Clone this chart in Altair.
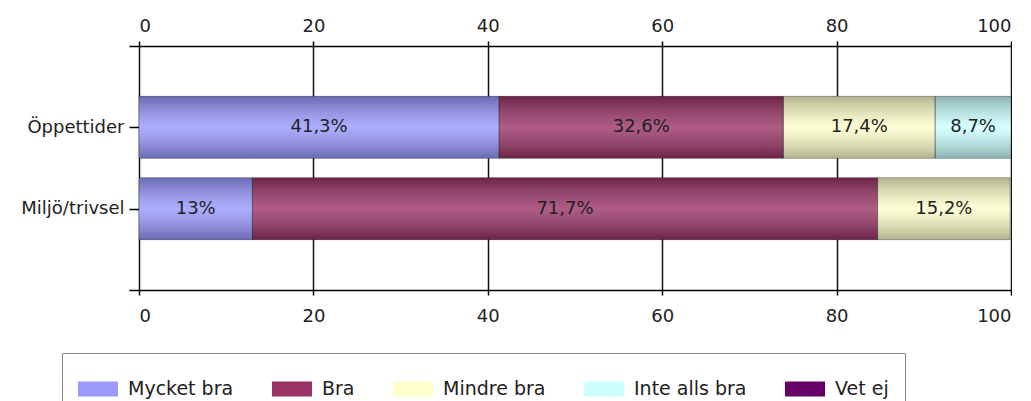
import altair as alt
import pandas as pd

categories = ["Öppettider", "Miljö/trivsel"]
series = ["Mycket bra", "Bra", "Mindre bra", "Inte alls bra", "Vet ej"]
colors = ["#9999FF", "#993366", "#FFFFCC", "#CCFFFF", "#660066"]
values_oppettider = [41.3, 32.6, 17.4, 8.7, 0]
values_miljo = [13, 71.7, 15.2, 0, 0]
x_ticks = [0, 20, 40, 60, 80, 100]

rows = []
for ci, (cat, vals) in enumerate(zip(categories, [values_oppettider, values_miljo])):
    for si, (s, v) in enumerate(zip(series, vals)):
        rows.append({"cat": cat, "row": ci + 1, "serie": s, "order": si, "value": v})
df = pd.DataFrame(rows)

FONT = "DejaVu Sans"
TXT = "#222222"

base = (
    alt.Chart(df)
    .transform_filter("datum.value > 0")
    .transform_stack(stack="value", groupby=["cat"], as_=["x0", "x1"],
                     sort=[alt.SortField("order")])
    .transform_calculate(
        mid="(datum.x0 + datum.x1) / 2",
        label="replace(format(datum.value, '.1~f'), '.', ',') + '%'",
    )
)

label_expr = ("datum.value == 1 ? '" + categories[0] + "' : datum.value == 2 ? '"
              + categories[1] + "' : ''")

y_enc = alt.Y(
    "row:Q",
    scale=alt.Scale(domain=[0, 3], reverse=True, nice=False, zero=False, padding=0),
    axis=alt.Axis(values=[0, 1, 2, 3], labelExpr=label_expr, grid=False, domain=False,
                  tickSize=10, tickColor="#000", tickWidth=1.5, title=None,
                  labelFontSize=18, labelFont=FONT, labelColor=TXT, labelPadding=5),
)

x_scale = alt.Scale(domain=[0, 100], nice=False, zero=True, padding=0)

# pad the last legend label with em spaces so the legend frame reaches as far right
legend_label_expr = ("datum.value == '" + series[-1] + "' ? datum.value + "
                     "'\u2003\u2003' : datum.value")

bars = base.mark_bar(size=62, orient="horizontal").encode(
    x=alt.X("x0:Q", scale=x_scale,
            axis=alt.Axis(orient="top", values=x_ticks, grid=True, gridColor="#111",
                          gridWidth=1.5, tickSize=5, tickColor="#000", tickWidth=1.5,
                          domainColor="#000", domainWidth=1.5, title=None,
                          labelFontSize=18, labelFont=FONT, labelColor=TXT,
                          labelPadding=6)),
    x2="x1:Q",
    y=y_enc,
    color=alt.Color(
        "serie:N",
        scale=alt.Scale(domain=series, range=colors),
        legend=alt.Legend(
            orient="none", legendX=-77, legendY=307, direction="horizontal",
            title=None, columns=5, labelExpr=legend_label_expr,
            symbolType="M-1,-0.375H1V0.375H-1Z", symbolSize=1600,
            symbolStrokeWidth=0, symbolOpacity=1,
            labelFontSize=19, labelFont=FONT, labelColor=TXT,
            columnPadding=38, labelOffset=10, padding=16,
            strokeColor="#888888", fillColor="#ffffff",
        ),
    ),
)

grad = alt.LinearGradient(
    gradient="linear", x1=0, y1=0, x2=0, y2=1,
    stops=[
        alt.GradientStop(offset=0, color="rgba(0,0,0,0.30)"),
        alt.GradientStop(offset=0.5, color="rgba(255,255,255,0.20)"),
        alt.GradientStop(offset=1, color="rgba(0,0,0,0.30)"),
    ],
)

overlay = base.mark_bar(size=62, orient="horizontal", fill=grad,
                        stroke="rgba(0,0,0,0.3)", strokeWidth=1).encode(
    x=alt.X("x0:Q", scale=x_scale, axis=None),
    x2="x1:Q",
    y=y_enc,
)

text = base.mark_text(fontSize=18, font=FONT, color=TXT).encode(
    x=alt.X("mid:Q", scale=x_scale,
            axis=alt.Axis(orient="bottom", values=x_ticks, grid=False, tickSize=5,
                          tickColor="#000", tickWidth=1.5, domainColor="#000",
                          domainWidth=1.5, title=None, labelFontSize=18,
                          labelFont=FONT, labelColor=TXT, labelPadding=12)),
    y=y_enc,
    text="label:N",
)

chart = (
    alt.layer(bars, overlay, text)
    .resolve_axis(x="independent")
    .properties(width=872, height=244,
                padding={"left": 12, "top": 9, "right": 0, "bottom": 0})
    .configure_view(stroke=None)
)

chart.save("out.html", embed_options={"renderer": "svg", "actions": False})
